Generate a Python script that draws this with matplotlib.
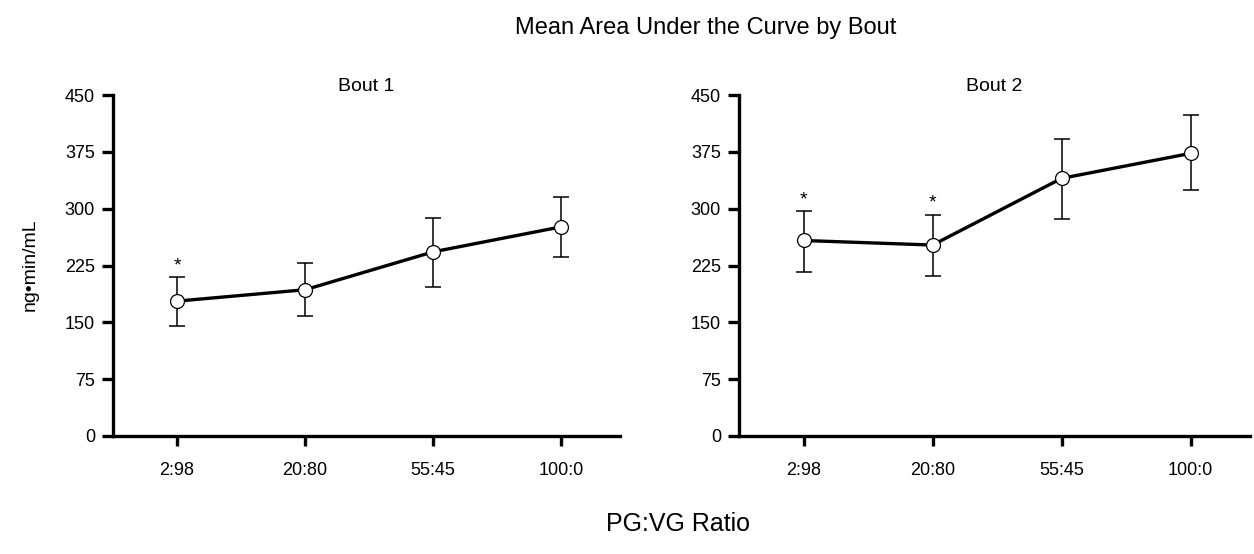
import numpy as np
import matplotlib
matplotlib.use('Agg')
import matplotlib.pyplot as plt

plt.rcParams['font.family'] = ['Liberation Sans', 'DejaVu Sans']

ratios = ['2:98', '20:80', '55:45', '100:0']
panel_titles = ['Bout 1', 'Bout 2']

# mean AUC and error bar ends
bout1_mean = [178, 193, 243, 276]
bout1_upper = [210, 228, 288, 316]
bout1_lower = [145, 158, 196, 236]
bout1_star = [True, False, False, False]

bout2_mean = [258, 252, 340, 373]
bout2_upper = [297, 292, 392, 423]
bout2_lower = [217, 211, 287, 324]
bout2_star = [True, True, False, False]

yticks = [0, 75, 150, 225, 300, 375, 450]

W, H = 1254, 554
fig = plt.figure(figsize=(W / 100, H / 100), dpi=100)

# axes boxes in pixels: left, right, top, bottom
boxes = [(113, 620, 95, 436), (739, 1250, 95, 436)]
series = [(bout1_mean, bout1_upper, bout1_lower, bout1_star),
          (bout2_mean, bout2_upper, bout2_lower, bout2_star)]

for (l, r, t, b), (mean, up, lo, star), title in zip(boxes, series, panel_titles):
    ax = fig.add_axes([l / W, 1 - b / H, (r - l) / W, (b - t) / H])
    x = np.arange(len(ratios))
    mean = np.array(mean); up = np.array(up); lo = np.array(lo)
    ax.errorbar(x, mean, yerr=[mean - lo, up - mean], fmt='none', ecolor='black',
                elinewidth=1.1, capsize=6, capthick=1.1, zorder=2)
    ax.plot(x, mean, color='black', lw=2.4, marker='o', ms=10, mfc='white',
            mec='black', mew=0.9, zorder=3)
    for xi, u, s in zip(x, up, star):
        if s:
            ax.annotate('*', (xi, u), xytext=(0, 2), textcoords='offset points',
                        ha='center', va='bottom', fontsize=14)
    ax.set_xlim(-0.5, 3.46)
    ax.set_ylim(0, 450)
    ax.set_xticks(x)
    ax.set_xticklabels(ratios)
    ax.set_yticks(yticks)
    ax.spines['top'].set_visible(False)
    ax.spines['right'].set_visible(False)
    for s in ['left', 'bottom']:
        ax.spines[s].set_linewidth(2.4)
    ax.tick_params(axis='both', direction='out', width=2.4, length=7, labelsize=13)
    ax.tick_params(axis='x', pad=12)
    ax.tick_params(axis='y', length=8, pad=5)
    ax.set_title(title, fontsize=14, pad=1)
    ax.patch.set_visible(False)

fig.text(706 / W, 1 - 28 / H, 'Mean Area Under the Curve by Bout', ha='center', va='center', fontsize=17)
fig.text(678 / W, 1 - 524 / H, 'PG:VG Ratio', ha='center', va='center', fontsize=18)
fig.text(30 / W, 1 - 265 / H, 'ng\u2022min/mL', ha='center', va='center', rotation=90, fontsize=14)

fig.savefig('out.png', dpi=100)
